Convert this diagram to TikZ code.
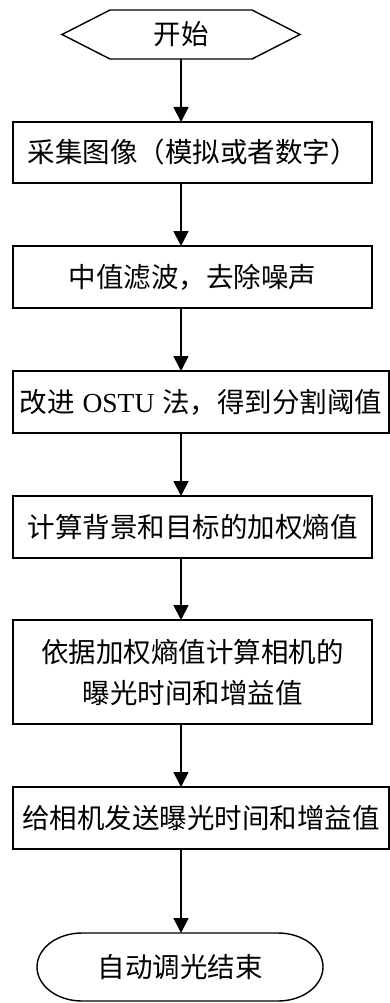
\documentclass[tikz,border=0pt]{standalone}
\usepackage{fontspec}
\setmainfont{Liberation Serif}
\newfontfamily\cjk{Noto Sans CJK SC}
\newfontfamily\lat{Liberation Serif}
\usetikzlibrary{arrows.meta,calc}
\begin{document}
\begin{tikzpicture}[x=1pt,y=-1pt,
  every node/.style={font=\cjk\fontsize{27.5pt}{41pt}\selectfont, inner sep=0pt, outer sep=0pt, align=center},
  procbox/.style={draw, line width=1.4pt},
  flow/.style={line width=1.8pt, -{Triangle[width=15pt,length=15pt]}},
  outline/.style={line width=1.4pt}]
\useasboundingbox (0,0) rectangle (390,1003);
% start hexagon
\node (start) [minimum width=238pt, minimum height=49pt] at (181,34.5) {开始};
\draw[outline] (start.west) -- ($(start.north west)+(48pt,0)$) -- ($(start.north east)+(-48pt,0)$)
  -- (start.east) -- ($(start.south east)+(-48pt,0)$) -- ($(start.south west)+(48pt,0)$) -- cycle;
% boxes
\node (b1) [procbox, minimum width=359pt, minimum height=61pt] at (192.5,152.5) {采集图像（模拟或者数字）};
\node (b2) [procbox, minimum width=359pt, minimum height=62pt] at (192.5,277) {中值滤波，去除噪声};
\node (b3) [procbox, minimum width=376pt, minimum height=62pt] at (201,402) {改进\hspace{8pt}{\lat OSTU}\hspace{8pt}法，得到分割阈值};
\node (b4) [procbox, minimum width=359pt, minimum height=62pt] at (192.5,527) {计算背景和目标的加权熵值};
\node (b5) [procbox, minimum width=359pt, minimum height=104pt] at (192.5,672) {依据加权熵值计算相机的\\曝光时间和增益值};
\node (b6) [procbox, minimum width=376pt, minimum height=62pt] at (201,818) {给相机发送曝光时间和增益值};
% end terminal
\node (stop) [minimum width=286pt, minimum height=68pt] at (180,967) {自动调光结束};
\draw[outline] ($(stop.north west)+(45pt,0)$) -- ($(stop.north east)+(-45pt,0)$)
  arc[start angle=90, end angle=-90, x radius=45pt, y radius=34pt]
  -- ($(stop.south west)+(45pt,0)$)
  arc[start angle=270, end angle=90, x radius=45pt, y radius=34pt] -- cycle;
% connectors
\draw[flow] (start.south) -- (start.south |- b1.north);
\draw[flow] (start.south |- b1.south) -- (start.south |- b2.north);
\draw[flow] (start.south |- b2.south) -- (start.south |- b3.north);
\draw[flow] (start.south |- b3.south) -- (start.south |- b4.north);
\draw[flow] (start.south |- b4.south) -- (start.south |- b5.north);
\draw[flow] (start.south |- b5.south) -- (start.south |- b6.north);
\draw[flow] (start.south |- b6.south) -- (start.south |- stop.north);
\end{tikzpicture}
\end{document}
